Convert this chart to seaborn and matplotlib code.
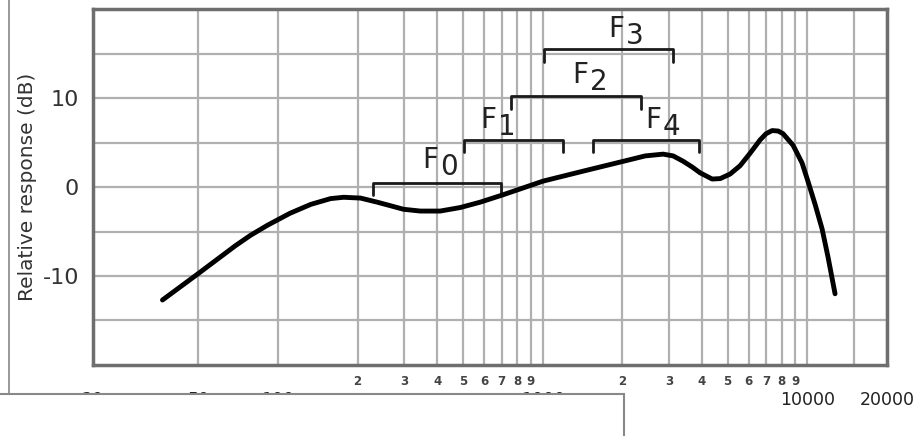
import matplotlib.pyplot as plt
import pandas as pd
import seaborn as sns
from matplotlib.lines import Line2D
from matplotlib.patches import Rectangle

# frequency response (Hz, dB)
freq_hz = [36.6, 49.6, 69, 78.7, 91.2, 111, 133, 158, 177, 205, 237, 266, 298, 345, 410,
           489, 581, 704, 1005, 1474, 2087, 2441, 2854, 3114, 3396, 3674, 3936,
           4371, 4688, 5110, 5575, 6080, 6634, 6990, 7366, 7761, 8100, 8838, 9560, 10072,
           10706, 11376, 11986, 12736]
response_db = [-12.7, -9.8, -6.6, -5.43, -4.3, -2.95, -1.95, -1.3, -1.15, -1.24, -1.7, -2.1, -2.5, -2.7, -2.7,
               -2.3, -1.7, -0.9, 0.67, 1.9, 3.0, 3.5, 3.7, 3.5, 2.9, 2.25, 1.6,
               0.9, 0.95, 1.46, 2.4, 3.8, 5.3, 6.0, 6.35, 6.3, 6.0, 4.7, 2.7, 0.6,
               -1.95, -4.7, -7.9, -12.0]

# formant ranges
formants = ['0', '1', '2', '3', '4']
band_lo = [229, 506, 760, 1014, 1552]
band_hi = [698, 1196, 2357, 3114, 3900]
band_db = [0.45, 5.3, 10.2, 15.5, 5.3]
label_hz = [351, 581, 1294, 1770, 2441]
label_db = [2.1, 6.6, 11.7, 16.9, 6.6]

major_ticks = [20, 50, 100, 1000, 10000, 20000]
major_labels = ['20', '50', '100', '1000', '10000', '20000']
minor_ticks = [200, 300, 400, 500, 600, 700, 800, 900,
               2000, 3000, 4000, 5000, 6000, 7000, 8000, 9000, 15000]
minor_labels = ['2', '3', '4', '5', '6', '7', '8', '9',
                '2', '3', '4', '5', '6', '7', '8', '9', '']
y_ticks = [-10, 0, 10]
y_minor = [-15, -5, 5, 15]

sns.set_theme(style='white')
plt.rcParams['font.family'] = ['DejaVu Sans']

df = pd.DataFrame({'freq': freq_hz, 'db': response_db})

fig = plt.figure(figsize=(9.21, 4.36), dpi=100)
ax = fig.add_axes([0.101, 0.163, 0.862, 0.816])

sns.lineplot(data=df, x='freq', y='db', color='black', linewidth=3.5, ax=ax, zorder=5)
ax.lines[-1].set_solid_joinstyle('round')

# formant brackets
tick = 1.4
for name, lo, hi, db, lx, ly in zip(formants, band_lo, band_hi, band_db, label_hz, label_db):
    ax.plot([lo, lo, hi, hi], [db - tick, db, db, db - tick], color='#1a1a1a', linewidth=2, zorder=4)
    ax.text(lx, ly, 'F', fontsize=20, color='#222222', ha='left', va='baseline')
    ax.annotate(name, xy=(lx, ly), xytext=(12.5, -5), textcoords='offset points',
                fontsize=20, color='#222222', ha='left', va='baseline')

ax.set_xscale('log')
ax.set_xlim(20, 20000)
ax.set_ylim(-20, 20)

ax.set_xticks(major_ticks)
ax.set_xticklabels(major_labels)
ax.set_xticks(minor_ticks, minor=True)
ax.set_xticklabels(minor_labels, minor=True)
ax.set_yticks(y_ticks)
ax.set_yticklabels(['-10', '0', '10'])
ax.set_yticks(y_minor, minor=True)

ax.tick_params(axis='x', which='major', length=0, pad=19, labelsize=12.5, labelcolor='#222222')
ax.tick_params(axis='x', which='minor', length=0, pad=7, labelsize=8.5, labelcolor='#444444')
for lab in ax.get_xticklabels(minor=True):
    lab.set_fontweight('bold')
ax.tick_params(axis='y', which='both', length=0, pad=10, labelsize=16, labelcolor='#333333')

ax.grid(which='both', color='#b0b0b0', linewidth=1.6)
for sp in ax.spines.values():
    sp.set_color('#6e6e6e')
    sp.set_linewidth(2.5)
    sp.set_visible(True)

ax.set_xlabel('')
ax.set_ylabel('Relative response (dB)', fontsize=14.5, color='#333333')
ax.yaxis.set_label_coords(-0.07, 0.5)

# page elements overlapping the screenshot
fig.patches.append(Rectangle((-0.01, -0.01), 0.6875, 0.1063, transform=fig.transFigure,
                             facecolor='white', edgecolor='#888888', linewidth=1.5, zorder=10))
fig.lines.append(Line2D([9 / 921, 9 / 921], [0.0963, 1.0], transform=fig.transFigure,
                        color='#888888', linewidth=1.2, zorder=10))

fig.savefig('out.png', dpi=100)
